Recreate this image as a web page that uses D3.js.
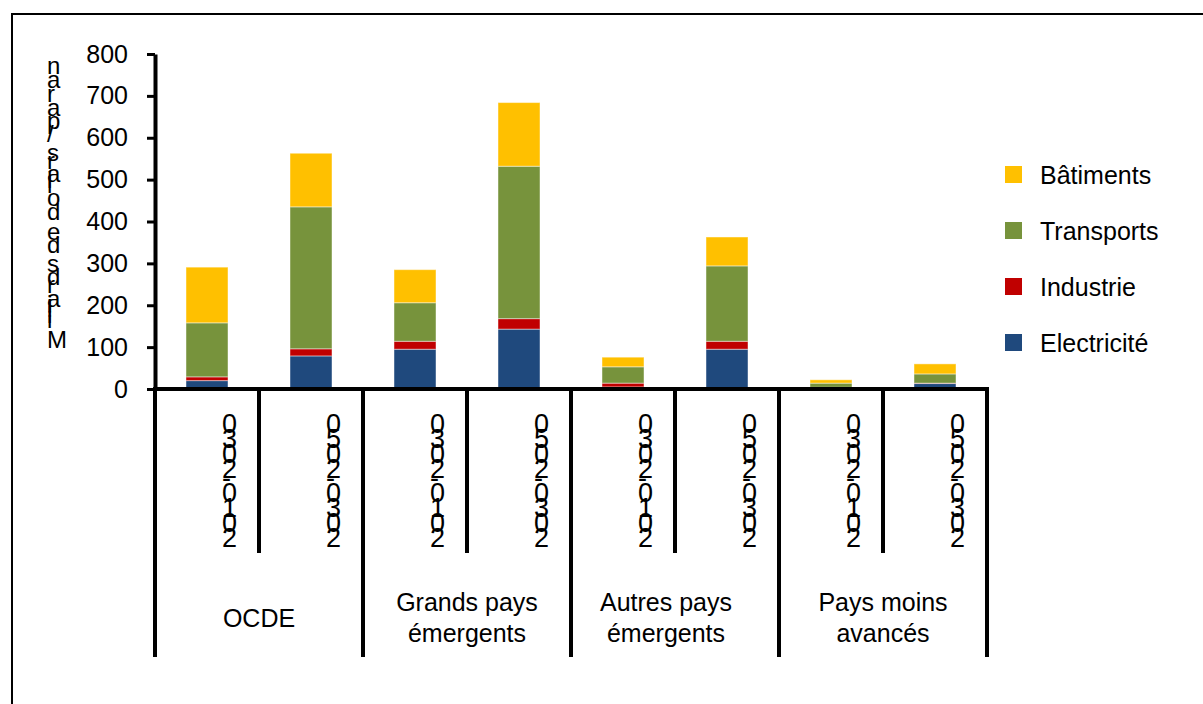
<!DOCTYPE html>
<html>
<head>
<meta charset="utf-8">
<script src="https://cdn.jsdelivr.net/npm/d3@7"></script>
<style>
  html, body { margin: 0; padding: 0; background: #fff; }
  svg { display: block; font-family: "Liberation Sans", Arial, sans-serif; }
</style>
</head>
<body>
<svg id="chart" width="1203" height="704"></svg>
<script>
// Regions and periods along the x axis
const groups = [
  ["OCDE"],
  ["Grands pays", "émergents"],
  ["Autres pays", "émergents"],
  ["Pays moins", "avancés"]
];
const periods = ["2010-2030", "2030-2050"];

// Stacked series, one value per bar (group × period)
const electricite = [20, 79, 95, 143, 5, 95, 3, 13];
const industrie   = [9, 17, 19, 25, 9, 19, 1, 1];
const transports  = [129, 339, 92, 364, 39, 180, 10, 22];
const batiments   = [133, 128, 79, 152, 23, 69, 8, 24];

const seriesNames  = ["Electricité", "Industrie", "Transports", "Bâtiments"];
const seriesColors = ["#1F497D", "#C00000", "#77933C", "#FFC000"];

const yTicks = [0, 100, 200, 300, 400, 500, 600, 700, 800];
const yTitle = "Milliards de dollars / par an";

const svg = d3.select("#chart");

// outer frame
svg.append("rect")
  .attr("x", 12).attr("y", 14)
  .attr("width", 1203).attr("height", 720)
  .attr("fill", "none").attr("stroke", "#000").attr("stroke-width", 2);

const bars = [];
groups.forEach((g, gi) => periods.forEach((p, pi) => bars.push({ gi, pi, period: p })));

const x = d3.scaleBand().domain(d3.range(bars.length)).range([155, 987]);
const y = d3.scaleLinear().domain([0, 800]).range([389, 54]);

// stacked layout
const rows = bars.map((b, i) => ({
  i,
  "Electricité": electricite[i],
  "Industrie": industrie[i],
  "Transports": transports[i],
  "Bâtiments": batiments[i]
}));
const stack = d3.stack().keys(seriesNames)(rows);

const barW = 42;
const layers = svg.append("g").selectAll("g")
  .data(stack).join("g")
  .attr("fill", (d, k) => seriesColors[k]);

layers.selectAll("rect")
  .data(d => d).join("rect")
  .attr("x", d => x(d.data.i) + x.bandwidth() / 2 - barW / 2)
  .attr("width", barW)
  .attr("y", d => y(d[1]))
  .attr("height", d => Math.max(0, y(d[0]) - y(d[1])))
  .attr("stroke", "rgba(255,255,255,0.45)")
  .attr("stroke-width", 1);

// y axis
const yAxis = svg.append("g")
  .attr("transform", "translate(155,0)")
  .call(d3.axisLeft(y).tickValues(yTicks).tickSizeInner(8).tickSizeOuter(0).tickPadding(19));
yAxis.select(".domain").attr("stroke", "#000").attr("stroke-width", 4);
yAxis.selectAll(".tick line").attr("stroke", "#000").attr("stroke-width", 3);
yAxis.selectAll(".tick text")
  .attr("font-family", "'Liberation Sans', Arial, sans-serif")
  .attr("font-size", 25).attr("fill", "#000");

// x axis line
svg.append("line")
  .attr("x1", 153).attr("x2", 989)
  .attr("y1", y(0)).attr("y2", y(0))
  .attr("stroke", "#000").attr("stroke-width", 4);

// separators between bars (short) and between groups (long)
const bounds = d3.range(bars.length + 1).map(k => k < bars.length ? x(k) : x(bars.length - 1) + x.bandwidth());
svg.append("g").selectAll("line")
  .data(bounds).join("line")
  .attr("x1", d => d).attr("x2", d => d)
  .attr("y1", y(0))
  .attr("y2", (d, k) => k % 2 === 0 ? 657 : 553)
  .attr("stroke", "#000").attr("stroke-width", 4);

// period labels: text runs bottom-to-top with each glyph kept upright
svg.append("g").attr("font-size", 27).attr("fill", "#000")
  .selectAll("text").data(bars).join("text")
  .attr("transform", (b, i) => `translate(${x(i) + 67},547) rotate(-90)`)
  .attr("rotate", 90)
  .text(b => b.period);

// group labels
const groupG = svg.append("g").attr("font-size", 25).attr("fill", "#000").attr("text-anchor", "middle");
const groupShift = [0, 0, -9, 0];
groups.forEach((lines, gi) => {
  const cx = (x(gi * 2) + x(gi * 2 + 1) + x.bandwidth()) / 2 + groupShift[gi];
  const base = lines.length === 1 ? 627 : 611;
  lines.forEach((t, li) => {
    groupG.append("text").attr("x", cx).attr("y", base + li * 30.5).text(t);
  });
});

// y axis title, same upright-glyph vertical layout
svg.append("text")
  .attr("font-size", 24).attr("fill", "#000")
  .attr("transform", "translate(47,348) rotate(-90)")
  .attr("rotate", 90)
  .text(yTitle);

// legend (top entry = top of stack)
const legend = svg.append("g");
const legendOrder = [3, 2, 1, 0];
legendOrder.forEach((k, r) => {
  const cy = 175 + r * 56;
  legend.append("rect")
    .attr("x", 1005).attr("y", cy - 9)
    .attr("width", 17).attr("height", 17)
    .attr("fill", seriesColors[k]);
  legend.append("text")
    .attr("x", 1040).attr("y", cy + 9)
    .attr("font-size", 25).attr("fill", "#000")
    .text(seriesNames[k]);
});
</script>
</body>
</html>
